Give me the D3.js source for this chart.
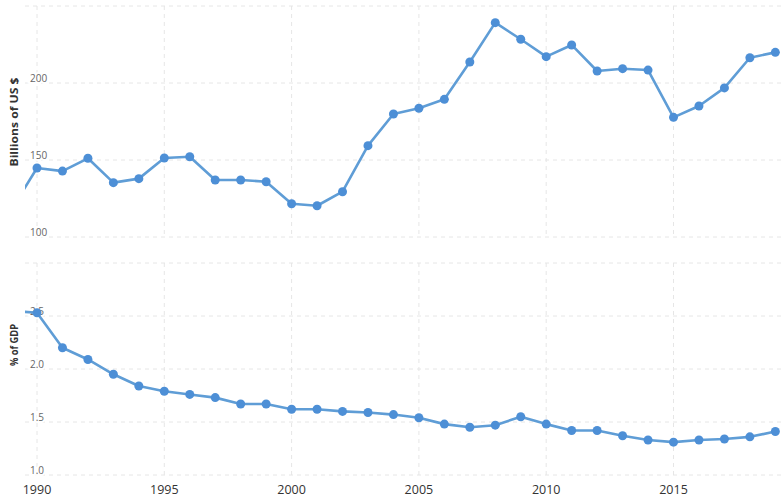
<!DOCTYPE html>
<html>
<head>
<meta charset="utf-8">
<script src="https://cdn.jsdelivr.net/npm/d3@7"></script>
<style>
  html, body { margin: 0; padding: 0; background: #fff; }
  svg { display: block; font-family: "Open Sans", "DejaVu Sans", sans-serif; }
</style>
</head>
<body>
<svg id="chart" width="783" height="498"></svg>
<script>
const years = [1989, 1990, 1991, 1992, 1993, 1994, 1995, 1996, 1997, 1998, 1999,
  2000, 2001, 2002, 2003, 2004, 2005, 2006, 2007, 2008, 2009,
  2010, 2011, 2012, 2013, 2014, 2015, 2016, 2017, 2018, 2019];
const billions = [118, 144.8, 142.8, 151.1, 135.3, 137.9, 151.3, 152.1, 137.0, 137.0, 135.9,
  121.6, 120.3, 129.4, 159.3, 179.9, 183.6, 189.4, 213.6, 239.2, 228.4,
  217.1, 224.7, 207.8, 209.3, 208.4, 177.7, 185.1, 196.8, 216.4, 219.9];
const pctGdp = [2.55, 2.53, 2.20, 2.09, 1.95, 1.84, 1.79, 1.76, 1.73, 1.67, 1.67,
  1.62, 1.62, 1.60, 1.59, 1.57, 1.54, 1.48, 1.45, 1.47, 1.55,
  1.48, 1.42, 1.42, 1.37, 1.33, 1.31, 1.33, 1.34, 1.36, 1.41];
const xTicks = [1990, 1995, 2000, 2005, 2010, 2015];
const topTicks = [100, 150, 200, 250];
const topLabels = ["100", "150", "200", ""];
const botTicks = [1.0, 1.5, 2.0, 2.5, 3.0];
const botLabels = ["1.0", "1.5", "2.0", "2.5", ""];

const svg = d3.select("#chart");
const W = 783;
const x = d3.scaleLinear().domain([1990, 2019]).range([37, 37 + 29 * 25.46]);

const lineColor = "#5f9dd6";
const dotColor = "#4d8fd6";
const gridColor = "#e6e6e6";

svg.append("defs").append("clipPath").attr("id", "clip")
  .append("rect").attr("x", 25).attr("y", 0).attr("width", W - 25).attr("height", 498);

function panel(values, domain, yRange, ticks, labels, title, titleY, titleLen) {
  const y = d3.scaleLinear().domain(domain).range(yRange);
  const g = svg.append("g");
  g.selectAll(".vg").data(xTicks).join("line")
    .attr("x1", d => x(d)).attr("x2", d => x(d))
    .attr("y1", yRange[1]).attr("y2", yRange[0])
    .attr("stroke", gridColor).attr("stroke-width", 1).attr("stroke-dasharray", "4,4");
  g.selectAll(".hg").data(ticks).join("line")
    .attr("x1", 25).attr("x2", W)
    .attr("y1", d => y(d)).attr("y2", d => y(d))
    .attr("stroke", gridColor).attr("stroke-width", 1).attr("stroke-dasharray", "4,4");
  g.selectAll(".yl").data(ticks).join("text")
    .attr("x", 30).attr("y", d => y(d) - 1)
    .attr("font-size", 10).attr("fill", "#666")
    .attr("stroke", "#fff").attr("stroke-width", 4).attr("paint-order", "stroke")
    .text((d, i) => labels[i]);
  g.append("text")
    .attr("transform", `translate(18,${titleY}) rotate(-90)`)
    .attr("text-anchor", "middle")
    .attr("font-size", 11).attr("font-weight", "bold").attr("fill", "#333")
    .attr("textLength", titleLen).attr("lengthAdjust", "spacingAndGlyphs")
    .text(title);
  const line = d3.line().x((d, i) => x(years[i])).y(d => y(d));
  const lg = g.append("g").attr("clip-path", "url(#clip)");
  lg.append("path").datum(values)
    .attr("d", line).attr("fill", "none")
    .attr("stroke", lineColor).attr("stroke-width", 2.6).attr("stroke-linejoin", "round");
  lg.selectAll("circle").data(values).join("circle")
    .attr("cx", (d, i) => x(years[i])).attr("cy", d => y(d)).attr("r", 4.5)
    .attr("fill", dotColor);
}

panel(billions, [100, 250], [237, 6], topTicks, topLabels, "Billions of US $", 122, 89);
panel(pctGdp, [1.0, 3.0], [475, 263], botTicks, botLabels, "% of GDP", 345, 42);

svg.append("g").selectAll("text").data(xTicks).join("text")
  .attr("x", d => x(d)).attr("y", 494)
  .attr("text-anchor", "middle").attr("font-size", 12.5).attr("fill", "#333")
  .text(d => d);
</script>
</body>
</html>
